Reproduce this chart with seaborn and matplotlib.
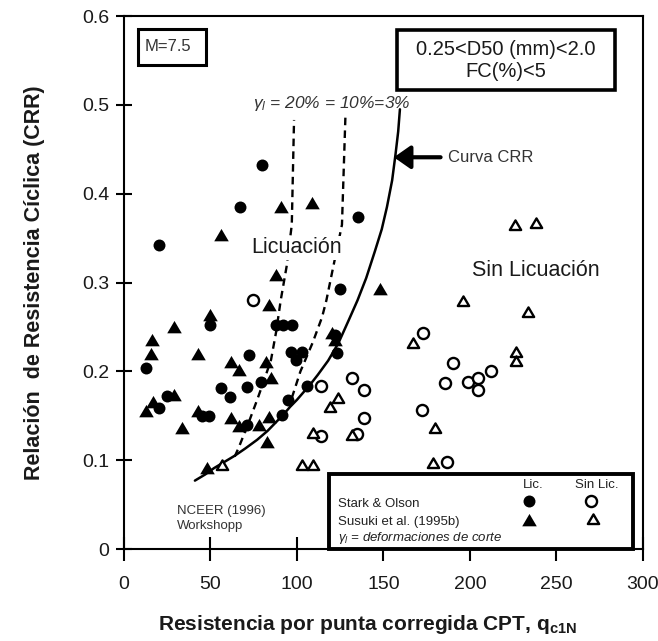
import numpy as np
import pandas as pd
import matplotlib
matplotlib.use("Agg")
import matplotlib.pyplot as plt
import seaborn as sns
from matplotlib.patches import Rectangle
from matplotlib.path import Path

# ---------------- data ----------------
# Stark & Olson - liquefaction (filled circles)
so_lic_q = [80, 67, 20, 135, 125, 50, 88, 92, 97, 96.5, 103, 99.5, 72, 13, 56, 61, 71, 79,
            25, 20, 45, 49, 71, 91.5, 95, 106, 122, 123]
so_lic_crr = [0.432, 0.385, 0.342, 0.374, 0.293, 0.252, 0.252, 0.252, 0.252, 0.222, 0.222, 0.213,
              0.218, 0.204, 0.181, 0.171, 0.182, 0.188, 0.172, 0.159, 0.150, 0.150, 0.140, 0.151,
              0.168, 0.184, 0.241, 0.221]
# Susuki et al. (1995b) - liquefaction (filled triangles)
su_lic_q = [91, 56, 88, 84, 50, 108.5, 148, 29, 16, 15.5, 43, 62, 66.5, 82, 85, 29, 17, 12.7,
            43, 33.5, 62, 66.5, 78, 84, 82.7, 48, 120, 122]
su_lic_crr = [0.385, 0.354, 0.309, 0.275, 0.263, 0.390, 0.293, 0.250, 0.235, 0.220, 0.220, 0.211,
              0.202, 0.211, 0.192, 0.173, 0.166, 0.155, 0.155, 0.136, 0.147, 0.138, 0.140, 0.149,
              0.120, 0.091, 0.243, 0.235]
# Stark & Olson - no liquefaction (open circles)
so_nolic_q = [74.6, 114, 132, 139, 139, 134.5, 114, 173, 172, 190, 185.5, 199, 204.6, 204.6, 212, 187]
so_nolic_crr = [0.280, 0.184, 0.193, 0.179, 0.147, 0.130, 0.127, 0.243, 0.156, 0.209, 0.187, 0.188,
                0.192, 0.179, 0.200, 0.098]
# Susuki et al. (1995b) - no liquefaction (open triangles)
su_nolic_q = [226, 238, 196, 233.5, 167, 226.6, 226.6, 180, 178.6, 119, 124, 109, 132, 103, 109, 56.6]
su_nolic_crr = [0.365, 0.367, 0.279, 0.267, 0.232, 0.222, 0.212, 0.136, 0.097, 0.160, 0.170, 0.131,
                0.128, 0.095, 0.095, 0.095]

# CRR curve (NCEER 1996 workshop)
crr_q = [41, 47, 52, 58, 64, 70, 77, 83, 88, 92, 96, 100, 104, 108, 112, 118, 124, 130, 135,
         140, 145, 149, 152, 155, 157, 158.5, 159.5]
crr_v = [0.077, 0.084, 0.091, 0.098, 0.105, 0.113, 0.123, 0.133, 0.143, 0.151, 0.160, 0.168,
         0.177, 0.186, 0.196, 0.212, 0.232, 0.258, 0.280, 0.305, 0.335, 0.360, 0.385, 0.415,
         0.445, 0.470, 0.495]
# shear strain 20% line
g20_q = [64, 66.5, 72, 77, 81, 85, 88, 90.6, 94, 97, 98.3]
g20_v = [0.104, 0.115, 0.142, 0.168, 0.190, 0.213, 0.245, 0.280, 0.318, 0.365, 0.483]
# shear strain 10% line
g10_q = [97, 102, 109, 114.5, 117, 121, 126, 128]
g10_v = [0.170, 0.200, 0.232, 0.261, 0.280, 0.318, 0.365, 0.487]

x_ticks = [0, 50, 100, 150, 200, 250, 300]
y_ticks = [0, 0.1, 0.2, 0.3, 0.4, 0.5, 0.6]
y_tick_labels = ["0", "0.1", "0.2", "0.3", "0.4", "0.5", "0.6"]

# ---------------- style ----------------
sns.set_theme(style="white")
plt.rcParams["font.family"] = ["Liberation Sans", "DejaVu Sans"]
plt.rcParams["mathtext.fontset"] = "custom"
plt.rcParams["mathtext.rm"] = "Liberation Sans"
plt.rcParams["mathtext.it"] = "Liberation Sans:italic"
plt.rcParams["mathtext.bf"] = "Liberation Sans:bold"
TXT = "#1a1a1a"

fig = plt.figure(figsize=(6.58, 6.41), dpi=100)
ax = fig.add_axes([0.1884, 0.1435, 0.7888, 0.8315])

tri = Path([(-1, -0.8), (1, -0.8), (0, 0.9), (-1, -0.8)],
           [Path.MOVETO, Path.LINETO, Path.LINETO, Path.CLOSEPOLY])

sns.lineplot(x=crr_q, y=crr_v, sort=False, color="black", lw=1.8, ax=ax, zorder=2)
for q, v in [(g20_q, g20_v), (g10_q, g10_v)]:
    sns.lineplot(x=q, y=v, sort=False, color="black", lw=1.7, ax=ax, zorder=2,
                 dashes=False, linestyle=(0, (3.2, 2.2)))

sns.scatterplot(x=so_lic_q, y=so_lic_crr, marker="o", s=74, color="black",
                edgecolor="black", linewidth=0, ax=ax, zorder=3)
sns.scatterplot(x=su_lic_q, y=su_lic_crr, marker=tri, s=110, color="black",
                edgecolor="black", linewidth=0, ax=ax, zorder=3)
sns.scatterplot(x=so_nolic_q, y=so_nolic_crr, marker="o", s=64, color="white",
                edgecolor="black", linewidth=1.7, ax=ax, zorder=3)
sns.scatterplot(x=su_nolic_q, y=su_nolic_crr, marker=tri, s=66, color="white",
                edgecolor="black", linewidth=1.7, ax=ax, zorder=3)

ax.set_xlim(0, 300)
ax.set_ylim(0, 0.6)
ax.set_xticks(x_ticks)
ax.set_yticks(y_ticks)
ax.set_yticklabels(y_tick_labels)
for s in ax.spines.values():
    s.set_color("black")
    s.set_linewidth(1.5)
ax.tick_params(axis="x", direction="inout", length=17, width=1.5, labelsize=14,
               pad=11, colors="black", labelcolor=TXT, bottom=True)
ax.tick_params(axis="y", direction="inout", length=11, width=1.5, labelsize=14,
               pad=5, colors="black", labelcolor=TXT, left=True)

ax.set_xlabel(r"Resistencia por punta corregida CPT, $\mathbf{q}_{\mathbf{c1N}}$",
              fontsize=15, fontweight="bold", color=TXT)
ax.xaxis.set_label_coords(0.47, -0.120)
ax.set_ylabel("Relación  de Resistencia Cíclica (CRR)", fontsize=15.5,
              fontweight="bold", color=TXT)
ax.yaxis.set_label_coords(-0.152, 0.5)

# boxes
for (x0, y0, x1, y1, lw) in [(0.027, 0.908, 0.158, 0.976, 2.2),
                             (0.526, 0.861, 0.946, 0.974, 2.6),
                             (0.395, 0.0, 0.981, 0.141, 2.8)]:
    ax.add_patch(Rectangle((x0, y0), x1 - x0, y1 - y0, transform=ax.transAxes,
                           fill=True, facecolor="white", edgecolor="black", lw=lw,
                           zorder=4, clip_on=False))

ax.text(0.040, 0.942, "M=7.5", transform=ax.transAxes, fontsize=12, color="#333333",
        ha="left", va="center", zorder=5)
ax.text(0.736, 0.917, "0.25<D50 (mm)<2.0\nFC(%)<5", transform=ax.transAxes,
        fontsize=14.5, color=TXT, ha="center", va="center", linespacing=1.2,
        multialignment="center", zorder=5)

ax.text(74.5, 0.502, r"$\gamma_l$ = 20% = 10%=3%", fontsize=12.5, style="italic",
        color="#333333", ha="left", va="center", zorder=5)
ax.annotate("", xy=(156.0, 0.441), xytext=(183, 0.441),
            arrowprops=dict(arrowstyle="-|>,head_length=0.5,head_width=0.35",
                            lw=3, color="black", mutation_scale=20, shrinkA=0, shrinkB=0))
ax.text(187.5, 0.441, "Curva CRR", fontsize=12, color="#333333", ha="left", va="center")

ax.text(99.5, 0.339, "Licuación", fontsize=15.5, color=TXT, ha="center", va="center",
        zorder=2.5, bbox=dict(facecolor="white", edgecolor="none", pad=1))
ax.text(238, 0.314, "Sin Licuación", fontsize=15.5, color=TXT, ha="center", va="center")

ax.text(30.5, 0.034, "NCEER (1996)\nWorkshopp", fontsize=9.5, color="#333333",
        ha="left", va="center", linespacing=1.35)

# legend box contents
lt = dict(transform=ax.transAxes, fontsize=9.5, color="#222222", zorder=6)
ax.text(0.788, 0.120, "Lic.", ha="center", va="center", **lt)
ax.text(0.911, 0.120, "Sin Lic.", ha="center", va="center", **lt)
ax.text(0.412, 0.084, "Stark & Olson", ha="left", va="center", **lt)
ax.text(0.412, 0.051, "Susuki et al. (1995b)", ha="left", va="center", **lt)
ax.text(0.412, 0.021, r"$\gamma_l$ = deformaciones de corte", ha="left", va="center",
        style="italic", **lt)
ax.scatter([0.780], [0.090], marker="o", s=74, color="black", lw=0,
           transform=ax.transAxes, zorder=6, clip_on=False)
ax.scatter([0.780], [0.055], marker=tri, s=110, color="black", lw=0,
           transform=ax.transAxes, zorder=6, clip_on=False)
ax.scatter([0.900], [0.090], marker="o", s=64, facecolor="white", edgecolor="black",
           lw=1.7, transform=ax.transAxes, zorder=6, clip_on=False)
ax.scatter([0.904], [0.056], marker=tri, s=66, facecolor="white", edgecolor="black",
           lw=1.7, transform=ax.transAxes, zorder=6, clip_on=False)

fig.savefig("out.png", dpi=100, facecolor="white")
